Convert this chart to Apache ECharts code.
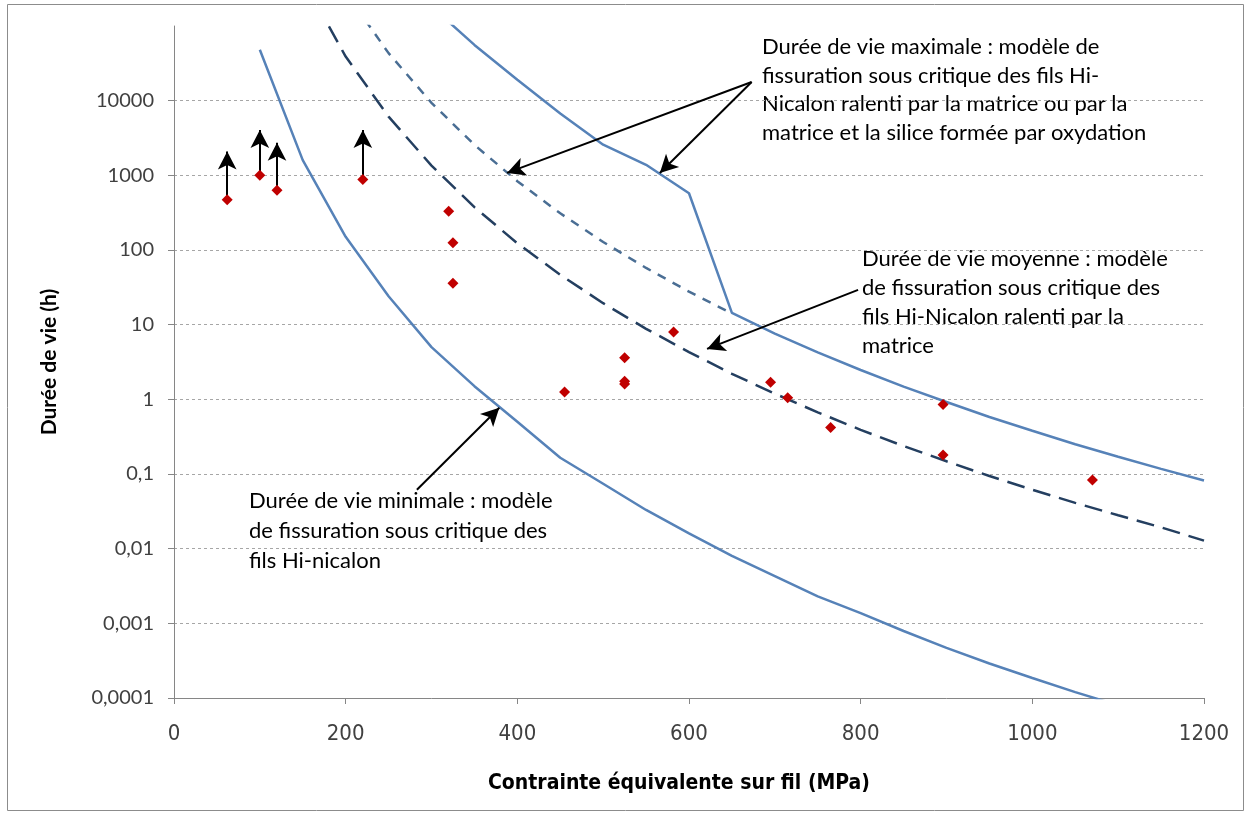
<!DOCTYPE html>
<html><head><meta charset="utf-8">
<script src="https://cdn.jsdelivr.net/npm/echarts@6/dist/echarts.min.js"></script>
<style>html,body{margin:0;padding:0;background:#fff}#c{width:1250px;height:814px}</style>
</head><body><div id="c"></div>
<script>
// ---- Data ----
const xMin = 0, xMax = 1200, xInterval = 200;
const yMin = 0.0001, yMax = 100000;

// Minimal lifetime model (solid)
const minStress = [100,150,200,250,300,350,400,450,500,550,600,650,700,750,800,850,900,950,1000,1050,1100];
const minLife   = [48000,1600,150,24,5.0,1.5,0.5,0.165,0.074,0.033,0.016,0.008,0.0043,0.0023,0.00137,0.00079,0.00047,0.00029,0.000185,0.00012,0.00008];

// Mean lifetime model (long dashes)
const meanStress = [150,200,250,300,350,400,450,500,550,600,650,700,750,800,850,900,950,1000,1050,1100,1150,1200];
const meanLife   = [424000,39000,6100,1350,375,123,46.5,19.4,8.8,4.3,2.2,1.19,0.67,0.39,0.237,0.148,0.094,0.0615,0.041,0.028,0.0193,0.0128];

// Maximal lifetime, slowed by matrix (short dashes)
const slowStress = [200,250,300,350,400,450,500,550,600,650];
const slowLife   = [282000,43300,9360,2560,835,310,128,57.5,27.7,14.1];

// Maximal lifetime (solid)
const maxStress = [300,350,400,450,500,550,600,650,700,750,800,850,900,950,1000,1050,1100,1150,1200];
const maxLife   = [183000,55800,19100,6720,2575,1383,575,14.4,7.6,4.25,2.47,1.48,0.92,0.58,0.38,0.25,0.17,0.117,0.082];

// Experimental points
const ptStress = [62,100,120,220,320,325,325,455,525,525,525,582,695,715,765,896,896,1070];
const ptLife   = [470,1000,630,880,330,125,36,1.25,3.6,1.75,1.6,8,1.7,1.05,0.42,0.85,0.18,0.083];

// Run-out arrows (non broken specimens): start point -> arrow tip
const runStress = [62,100,120,220];
const runFrom   = [470,1000,630,880];
const runTo     = [2080,4050,2740,4050];

// Annotation arrows (data coordinates: tail -> tip)
const annMaxTail = [673,17800];
const annMaxTip1 = [388,1077];
const annMaxTip2 = [566,1077];
const annMeanTail = [797,29.2];
const annMeanTip  = [621,4.74];
const annMinTail  = [283,0.0614];
const annMinTip   = [379,0.77];

const txtMax = ['Durée de vie maximale : modèle de','fissuration sous critique des fils Hi-','Nicalon ralenti par la matrice ou par la','matrice et la silice formée par oxydation'];
const txtMean = ['Durée de vie moyenne : modèle','de fissuration sous critique des','fils Hi-Nicalon ralenti par la','matrice'];
const txtMin = ['Durée de vie minimale : modèle','de fissuration sous critique des','fils Hi-nicalon'];

const zip = (a,b) => a.map((v,i) => [v,b[i]]);

const chart = echarts.init(document.getElementById('c'), null, {renderer:'canvas'});

const arrowLines = [];
runStress.forEach((x,i) => arrowLines.push([{coord:[x,runFrom[i]]},{coord:[x,runTo[i]]}]));
arrowLines.push([{coord:annMaxTail},{coord:annMaxTip1}]);
arrowLines.push([{coord:annMaxTail},{coord:annMaxTip2}]);
arrowLines.push([{coord:annMeanTail},{coord:annMeanTip}]);
arrowLines.push([{coord:annMinTail},{coord:annMinTip}]);

const textFont = '22px Lato';
const narrow = "'Liberation Sans Narrow','DejaVu Sans Condensed','Liberation Sans',sans-serif";
chart.setOption({
  animation:false,
  backgroundColor:'#fff',
  grid:{left:174,right:46,top:26,bottom:116,containLabel:false,outerBoundsMode:'none'},
  xAxis:{
    type:'value', min:xMin, max:xMax, interval:xInterval,
    name:'Contrainte équivalente sur fil (MPa)', nameLocation:'middle', nameGap:75, nameMoveOverlap:false,
    nameTextStyle:{fontFamily:narrow, fontSize:21, fontWeight:'bold', color:'#000', padding:[0,20,0,0]},
    axisLine:{show:true,onZero:false,lineStyle:{color:'#868686',width:1}},
    axisTick:{show:true,length:6,inside:false,lineStyle:{color:'#868686'}},
    axisLabel:{margin:25,color:'#404040',fontSize:22,fontFamily:narrow, formatter:v => String(v)},
    splitLine:{show:false}
  },
  yAxis:{
    type:'log', logBase:10, min:yMin, max:yMax, splitNumber:10,
    name:'Durée de vie (h)', nameLocation:'middle', nameGap:114, nameRotate:90, nameMoveOverlap:false,
    nameTextStyle:{fontFamily:'Lato', fontSize:21, fontWeight:'bold', color:'#000'},
    axisLine:{show:true,onZero:false,lineStyle:{color:'#868686',width:1}},
    axisTick:{show:true,length:6,inside:false,lineStyle:{color:'#868686'}},
    axisLabel:{margin:20,color:'#404040',fontSize:20,fontFamily:'Lato',showMaxLabel:false,
      formatter:v => v >= yMax*0.99 ? '' : String(v).replace('.',',')},
    splitLine:{show:true,showMaxLine:false,showMinLine:false,lineStyle:{color:'#a6a6a6',width:1,type:[3,3]}},
    minorTick:{show:false}
  },
  series:[
    {type:'line', name:'min', data:zip(minStress,minLife), showSymbol:false, clip:true, smooth:false,
      lineStyle:{color:'#5682B8',width:2.5,type:'solid'}},
    {type:'line', name:'mean', data:zip(meanStress,meanLife), showSymbol:false, clip:true,
      lineStyle:{color:'#243F60',width:2.5,type:[18,9]}},
    {type:'line', name:'slow', data:zip(slowStress,slowLife), showSymbol:false, clip:true,
      lineStyle:{color:'#4A6E94',width:2.5,type:[9,8]}},
    {type:'line', name:'max', data:zip(maxStress,maxLife), showSymbol:false, clip:true,
      lineStyle:{color:'#5682B8',width:2.5,type:'solid'}},
    {type:'scatter', name:'pts', data:zip(ptStress,ptLife), symbol:'diamond', symbolSize:11,
      itemStyle:{color:'#C00000',opacity:1}, z:5},
    {type:'line', name:'arrows', data:[], silent:true, z:6,
      markLine:{silent:true, animation:false, symbol:['none','arrow'], symbolSize:[14,18],
        label:{show:false}, lineStyle:{color:'#000',width:2,type:'solid'},
        emphasis:{disabled:true}, data:arrowLines}}
  ],
  graphic:[
    {type:'rect', shape:{x:7.5,y:4.5,width:1236,height:806}, style:{fill:'none',stroke:'#8c8c8c',lineWidth:1}, silent:true, z:-1},
    {type:'text', left:762, top:33, style:{text:txtMax.join('\n'), font:textFont, fill:'#000', lineHeight:28.5}},
    {type:'text', left:862, top:244, style:{text:txtMean.join('\n'), font:textFont, fill:'#000', lineHeight:29}},
    {type:'text', left:249, top:486, style:{text:txtMin.join('\n'), font:textFont, fill:'#000', lineHeight:30}}
  ]
});
</script></body></html>
